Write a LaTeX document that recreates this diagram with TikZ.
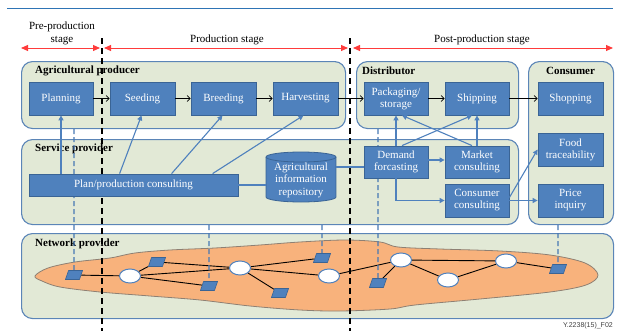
\documentclass[tikz,border=0pt]{standalone}
\usepackage{fontspec}
\setmainfont{Liberation Serif}
\newfontfamily\footfont{Liberation Sans}
\usetikzlibrary{arrows.meta,shapes.geometric,calc}

\definecolor{boxfill}{HTML}{4F81BD}
\definecolor{boxline}{HTML}{3A6495}
\definecolor{panelfill}{HTML}{E2E9D6}
\definecolor{panelline}{HTML}{5B85B7}
\definecolor{spanred}{HTML}{FF3B3B}
\definecolor{cloud}{HTML}{F8B27C}
\definecolor{cloudline}{HTML}{8E8073}
\definecolor{rule}{HTML}{2E74B5}
\definecolor{dropblue}{HTML}{4678B4}

\pgfdeclarelayer{back}
\pgfdeclarelayer{mid}
\pgfsetlayers{back,mid,main}

\begin{document}
\begin{tikzpicture}[x=1pt,y=-1pt,
  panel/.style={draw=panelline, fill=panelfill, line width=1.1pt, rounded corners=11pt, anchor=north west, inner sep=0pt},
  ptitle/.style={font=\bfseries\fontsize{11}{12}\selectfont, inner sep=0pt},
  bbox/.style={draw=boxline, fill=boxfill, line width=0.8pt, text=white, align=center, font=\fontsize{11}{12}\selectfont, inner sep=0pt},
  stagetxt/.style={font=\fontsize{11}{13}\selectfont, align=center, inner sep=0pt},
  flow/.style={draw=black, line width=0.7pt, -{Straight Barb[length=3pt,width=6pt]}},
  link/.style={draw=boxfill, line width=1.1pt, -{Triangle[length=5pt,width=5pt]}},
  plain/.style={draw=boxfill, line width=1.1pt},
  drop/.style={draw=dropblue, line width=1.3pt, dash pattern=on 5pt off 3pt},
  stageline/.style={draw=black, line width=1.5pt, dash pattern=on 6pt off 4pt},
  span/.style={draw=spanred, line width=1pt, {Triangle[length=7pt,width=6pt]}-{Triangle[length=7pt,width=6pt]}},
  hub/.style={ellipse, draw=boxfill, fill=white, line width=1pt, minimum width=21pt, minimum height=14pt, inner sep=0pt},
  dev/.style={draw=boxline, fill=boxfill, line width=0.6pt, minimum width=14pt, minimum height=9pt, inner sep=0pt, xslant=0.35},
  wire/.style={draw=black, line width=0.9pt}
]
\useasboundingbox (0,0) rectangle (619,332);

% heading rule
\coordinate (ruleL) at (7,8);
\coordinate (ruleR) at (613,8);
\draw[rule, line width=1pt] (ruleL) -- (ruleR);

% stage labels and spans
\node[stagetxt] (tpre) at (62,33.5) {Pre-production\\stage};
\node[stagetxt] (tpro) at (227,40) {Production stage};
\node[stagetxt] (tpost) at (482,40) {Post-production stage};
\coordinate (preL) at (21,48);
\coordinate (preR) at (100,48);
\coordinate (proL) at (104,48);
\coordinate (proR) at (348,48);
\coordinate (postL) at (353,48);
\coordinate (postR) at (613,48);
\draw[span] (preL) -- (preR);
\draw[span] (proL) -- (proR);
\draw[span] (postL) -- (postR);

% panels and network cloud
\begin{pgfonlayer}{back}
\node[panel, minimum width=324pt, minimum height=67pt] (agri) at (21,61) {};
\node[panel, minimum width=162pt, minimum height=67pt] (dist) at (356,61) {};
\node[panel, minimum width=85pt, minimum height=163pt] (cons) at (528,61) {};
\node[panel, minimum width=497pt, minimum height=85pt] (svc) at (21,139) {};
\node[panel, minimum width=592pt, minimum height=85pt] (net) at (21,233) {};

\node[ptitle, anchor=west] (lagri) at (35,71) {Agricultural producer};
\node[ptitle, anchor=west] (ldist) at (362,71) {Distributor};
\node[ptitle] (lcons) at (570.5,71) {Consumer};
\node[ptitle, anchor=west] (lsvc) at (35,149) {Service provider};
\node[ptitle, anchor=west] (lnet) at (35,244) {Network provider};

\draw[cloudline, fill=cloud, line width=0.8pt] plot[smooth cycle, tension=0.55] coordinates {
  (35,276) (48,268) (75,262) (110,258) (135,253) (170,250) (215,248) (260,245)
  (300,242) (345,240) (380,242) (398,247) (440,249) (500,251) (550,255) (585,263)
  (598,275) (586,285) (550,292) (480,299) (415,305) (390,309) (340,311) (300,310)
  (250,306) (200,300) (150,296) (100,292) (60,287) (42,281)};
\end{pgfonlayer}

% network elements
\node[dev] (s1) at (74,275) {};
\node[hub] (e1) at (130,276) {};
\node[dev] (s2) at (157,262) {};
\node[dev] (s3) at (209,286) {};
\node[hub] (e2) at (240,268) {};
\node[dev] (s4) at (280,293) {};
\node[dev] (s5) at (322,258) {};
\node[hub] (e3) at (329,276) {};
\node[dev] (s6) at (378,283) {};
\node[hub] (e4) at (401,260) {};
\node[hub] (e5) at (448,280) {};
\node[hub] (e6) at (506,261) {};
\node[dev] (s7) at (558,269) {};

\begin{pgfonlayer}{mid}
\draw[wire] (s1) -- (e1);
\draw[wire] (e1) -- (s2);
\draw[wire] (e1) -- (s3);
\draw[wire] (e1) -- (e2);
\draw[wire] (s2) -- (e2);
\draw[wire] (e2) -- (s4);
\draw[wire] (e2) -- (s5);
\draw[wire] (e2) -- (e3);
\draw[wire] (e3) -- (e4);
\draw[wire] (e4) -- (s6);
\draw[wire] (e4) -- (e5);
\draw[wire] (e4) -- (e6);
\draw[wire] (e5) -- (e6);
\draw[wire] (e6) -- (s7);

% links down to the network
\draw[drop] (agri.south -| s1) -- (s1);
\draw[drop] (svc.south -| s3) -- (s3);
\draw[drop] (svc.south -| s5) -- (s5);
\draw[drop] (dist.south -| s6) -- (s6);
\draw[drop] (cons.south -| s7) -- (s7);
\end{pgfonlayer}

% stage boundaries
\coordinate (b1t) at (102,38);
\coordinate (b1b) at (102,331);
\coordinate (b2t) at (350,38);
\coordinate (b2b) at (350,331);
\draw[stageline] (b1t) -- (b1b);
\draw[stageline] (b2t) -- (b2b);

% process boxes
\node[bbox, minimum width=64pt, minimum height=33pt] (planning) at (61,98.5) {Planning};
\node[bbox, minimum width=65pt, minimum height=33pt] (seeding) at (142.5,98.5) {Seeding};
\node[bbox, minimum width=65pt, minimum height=33pt] (breeding) at (223.5,98.5) {Breeding};
\node[bbox, minimum width=65pt, minimum height=33pt] (harvesting) at (305.5,98.5) {Harvesting};
\node[bbox, minimum width=64pt, minimum height=33pt] (packaging) at (396,98.5) {Packaging/\\storage};
\node[bbox, minimum width=64pt, minimum height=33pt] (shipping) at (477,98.5) {Shipping};
\node[bbox, minimum width=65pt, minimum height=33pt] (shopping) at (570.5,98.5) {Shopping};

\node[bbox, minimum width=209pt, minimum height=22pt] (plan) at (133.5,185) {Plan/production consulting};
\node[bbox, minimum width=64pt, minimum height=32pt] (demand) at (396,162) {Demand\\forcasting};
\node[bbox, minimum width=64pt, minimum height=32pt] (market) at (477,162) {Market\\consulting};
\node[bbox, minimum width=64pt, minimum height=33pt] (ccons) at (477,200.5) {Consumer\\consulting};
\node[bbox, minimum width=65pt, minimum height=33pt] (food) at (570.5,149.5) {Food\\traceability};
\node[bbox, minimum width=65pt, minimum height=33pt] (price) at (570.5,200.5) {Price\\inquiry};

% repository cylinder
\fill[boxfill] (266,157) rectangle (336,197);
\fill[boxfill] (301,197) ellipse[x radius=35, y radius=5];
\draw[boxline, line width=0.8pt] (266,157) -- (266,197) arc[start angle=180, end angle=0, x radius=35, y radius=5] -- (336,157);
\draw[boxline, fill=boxfill, line width=0.8pt] (301,157) ellipse[x radius=35, y radius=5];
\node[minimum width=70pt, minimum height=44pt, inner sep=0pt, text=white, align=center,
      font=\fontsize{11}{12.5}\selectfont] (repo) at (301,180) {Agricultural\\information\\repository};

% production flow
\draw[flow] (planning) -- (seeding);
\draw[flow] (seeding) -- (breeding);
\draw[flow] (breeding) -- (harvesting);
\draw[flow] (harvesting) -- (packaging);
\draw[flow] (packaging) -- (shipping);
\draw[flow] (shipping) -- (shopping);

% consulting links
\draw[link] (plan.north -| planning.south) -- (planning.south);
\draw[link] ($(plan.north west)+(91,0)$) -- ([xshift=-1pt]seeding.south);
\draw[link] ($(plan.north west)+(143,0)$) -- ([xshift=-1pt]breeding.south);
\draw[link] ($(plan.north west)+(184,0)$) -- ([xshift=-2pt]harvesting.south);
\draw[plain] (plan.east) -- (plan.east -| repo.west);
\draw[plain] ([yshift=-5pt]demand.west) -- ([yshift=-5pt]demand.west -| repo.east);

\draw[link] (demand.north) -- (packaging.south);
\draw[link] ([xshift=6pt]demand.north) -- ([xshift=-5pt]shipping.south);
\draw[link] (market.north) -- (shipping.south);
\draw[link] ([xshift=-5pt]market.north) -- ([xshift=6pt]packaging.south);
\draw[link] ([yshift=2pt]demand.east) -- ([yshift=2pt]market.west);
\draw[link] (demand.south) |- (ccons.west);
\draw[link] (ccons.east) -- (price.west);
\draw[link] ([yshift=3pt]ccons.east) -- (food.west);

% figure tag
\node[font=\footfont\fontsize{7}{8}\selectfont, text=black!75, anchor=east, inner sep=0pt] (tag) at (613,326) {Y.2238(15)\_F02};
\end{tikzpicture}
\end{document}
